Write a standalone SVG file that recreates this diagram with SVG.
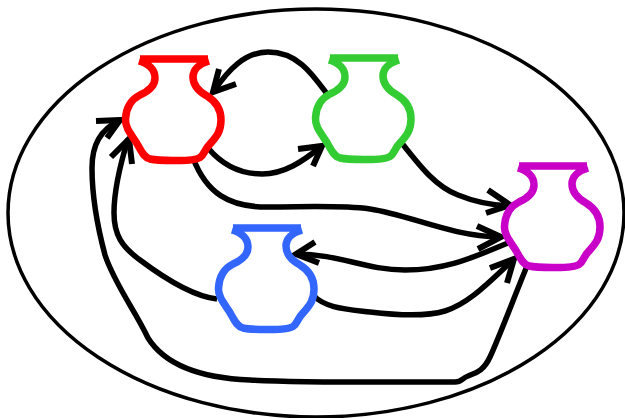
<svg xmlns="http://www.w3.org/2000/svg" width="625" height="418" viewBox="0 0 625 418">
<style>
.vase{fill:none;stroke-width:7.500;stroke-linejoin:round}
.c{fill:none;stroke:#000;stroke-width:5.500}
.h{fill:none;stroke:#000;stroke-width:6}
</style>
<defs>
<path id="v" d="M140 59L208 59M139 61C149 64 155 70 155 78C155 85 149 91 140 95C130 100 126 109 125.500 119C125 127 130 133 136 142C141 150 143 157 150 159C157 160.500 165 160.500 173 160.500C181 160.500 195 161 200 157.500C205 154 204 150 210 144C216 137 221 132 221 120C221 110 217 102 207 96C198 91 193 85 193 77C193 70 199 64 209 61"/>
</defs>
<ellipse cx="316" cy="213" rx="308" ry="204" fill="none" stroke="#000" stroke-width="3.500"/>
<g id="connectors">
<path class="c" d="M327 94C313 75 298 52 268 52C245 52 228 70 214 91"/>
<path class="h" d="M219 69L213 92L236 84"/>
<path class="c" d="M208 148C224 167 243 174 262 174C284 174 302 162 322 146"/>
<path class="h" d="M298 149L322 146L313 166"/>
<path class="c" d="M193 158C206 192 228 208 270 207C305 207 340 205 370 209C410 215 450 236 500 237"/>
<path class="h" d="M477 226L501 237L478 249"/>
<path class="c" d="M401 142C420 166 435 186 458 195C475 202 490 205 509 206"/>
<path class="h" d="M488 190L510 205L486 213"/>
<path class="c" d="M508 243C480 254 450 270 405 270C365 270 340 254 296 254"/>
<path class="h" d="M315 242L296 254L319 263"/>
<path class="c" d="M313 295C325 308 345 309 370 312C395 315 425 317 445 311C470 303 490 281 513 260"/>
<path class="h" d="M490 268L514 259L507 283"/>
<path class="c" d="M527 266C515 295 500 335 490 357C483 372 475 373 468 376C462 378 462 382 455 382C400 382 300 383 250 380C200 378 165 365 148 338C135 310 115 285 105 255C97 225 92 195 92 168C92 145 100 130 120 120"/>
<path class="h" d="M96 121L120 120L107 138"/>
<path class="c" d="M217 299C190 296 160 275 140 260C122 247 114 235 114 213C114 190 120 165 128 139"/>
<path class="h" d="M111 157L129 139L132 164"/>
</g>
<g id="red" class="vase" stroke="#ff0000"><use href="#v"/></g>
<g id="green" class="vase" stroke="#33cc33"><use href="#v" x="190" y="-1"/></g>
<g id="magenta" class="vase" stroke="#c800c8"><use href="#v" x="379" y="107"/></g>
<g id="blue" class="vase" stroke="#3366ff"><use href="#v" x="93" y="169"/></g>
</svg>
